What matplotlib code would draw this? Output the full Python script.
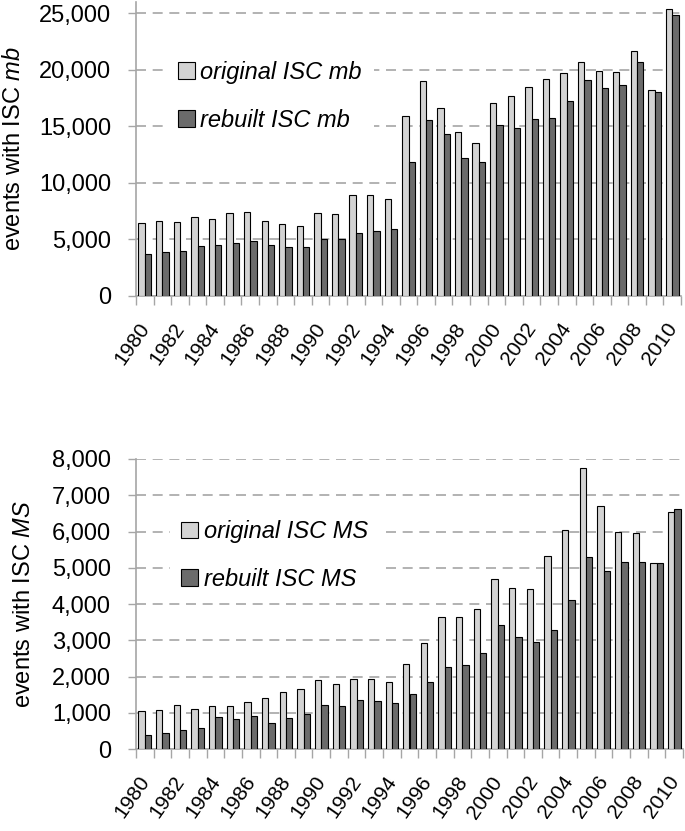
import numpy as np
import matplotlib
matplotlib.use('Agg')
import matplotlib.pyplot as plt
import matplotlib.transforms as mtransforms
from matplotlib.ticker import FuncFormatter, FixedLocator

plt.rcParams['font.family'] = ['Liberation Sans', 'DejaVu Sans']
plt.rcParams['mathtext.fontset'] = 'custom'
plt.rcParams['mathtext.rm'] = 'Liberation Sans'
plt.rcParams['mathtext.it'] = 'Liberation Sans:italic'

# 数据
years = list(range(1980, 2011))
mb_orig = [6490, 6640, 6520, 6970, 6790, 7350, 7440, 6610, 6350, 6230, 7320, 7230, 8910, 8910, 8560,
           15910, 19040, 16620, 14520, 13550, 17030, 17680, 18480, 19190, 19750, 20660, 19920, 19830,
           21700, 18210, 25350]
mb_rebuilt = [3750, 3870, 3950, 4460, 4550, 4660, 4840, 4490, 4310, 4310, 5050, 5050, 5610, 5730, 5900,
              11870, 15550, 14370, 12220, 11870, 15080, 14850, 15640, 15730, 17240, 19130, 18420, 18680,
              20660, 18030, 24850]
ms_orig = [1040, 1076, 1205, 1103, 1177, 1177, 1297, 1407, 1572, 1655, 1894, 1793, 1931, 1931, 1848,
           2345, 2933, 3651, 3651, 3853, 4690, 4441, 4414, 5333, 6051, 7752, 6703, 5977, 5949, 5140, 6538]
ms_rebuilt = [377, 441, 533, 588, 874, 818, 910, 708, 846, 966, 1214, 1186, 1352, 1324, 1269,
              1517, 1848, 2271, 2326, 2657, 3411, 3080, 2943, 3274, 4110, 5297, 4910, 5168, 5168, 5140, 6611]

FS = 17
GRAY = '#a6a6a6'


def panel(ax, orig, rebuilt, ymax, step, ylabel, labels, lab_x, leg_anchor):
    x = np.arange(len(years))
    w = 0.36
    ax.bar(x - w / 2, orig, w, color='#d3d3d3', edgecolor='black', linewidth=0.8, label=labels[0], zorder=3)
    ax.bar(x + w / 2, rebuilt, w, color='#6b6b6b', edgecolor='black', linewidth=0.8, label=labels[1], zorder=3)
    ax.set_xlim(-0.5, len(years) - 0.5)
    ax.set_ylim(0, ymax)
    ax.set_yticks(np.arange(0, ymax + 1, step))
    ax.yaxis.set_major_formatter(FuncFormatter(lambda v, p: '{:,.0f}'.format(v)))
    ax.yaxis.grid(True, linestyle=(0, (6, 4)), color=GRAY, linewidth=1.2, zorder=0)
    # x 轴: 刻度线在类别边界, 标签每隔两年
    ax.set_xticks(x[::2])
    ax.set_xticklabels([str(y) for y in years[::2]], rotation=55, ha='right', va='top',
                       rotation_mode='anchor')
    ax.xaxis.set_minor_locator(FixedLocator(np.arange(-0.5, len(years), 1)))
    ax.tick_params(axis='x', which='major', length=0, pad=17, labelsize=15)
    ax.tick_params(axis='x', which='minor', length=6.5, color=GRAY, width=1)
    ax.tick_params(axis='y', length=6, color=GRAY, width=1, pad=12, labelsize=FS)
    # 标签稍微左移 (tick_params 会重置 transform, 所以放在后面)
    shift = mtransforms.ScaledTranslation(-7 / 100, 0, ax.figure.dpi_scale_trans)
    for t in ax.get_xticklabels():
        t.set_transform(t.get_transform() + shift)
    for s in ['top', 'right']:
        ax.spines[s].set_visible(False)
    for s in ['left', 'bottom']:
        ax.spines[s].set_color(GRAY)
        ax.spines[s].set_linewidth(1.2)
    ax.set_ylabel(ylabel, fontsize=FS)
    ax.yaxis.set_label_coords(lab_x, 0.5)
    leg = ax.legend(loc='upper left', bbox_to_anchor=leg_anchor, frameon=True, fancybox=False,
                    prop={'size': FS, 'style': 'italic'}, handlelength=0.72, handleheight=0.72,
                    handletextpad=0.25, labelspacing=1.05, borderpad=0.5)
    leg.get_frame().set_facecolor('white')
    leg.get_frame().set_edgecolor('none')
    leg.get_frame().set_alpha(1)
    leg.set_zorder(5)


fig = plt.figure(figsize=(6.85, 8.31), dpi=100)
ax1 = fig.add_axes([136 / 685, 1 - 296 / 831, 545 / 685, 294 / 831])
ax2 = fig.add_axes([136 / 685, 1 - 749 / 831, 547 / 685, 290 / 831])

panel(ax1, mb_orig, mb_rebuilt, 26000, 5000, 'events with ISC $\\mathit{mb}$',
      ['original ISC mb', 'rebuilt ISC mb'], -0.204, (0.033, 0.88))
panel(ax2, ms_orig, ms_rebuilt, 8000, 1000, 'events with ISC $\\mathit{MS}$',
      ['original ISC MS', 'rebuilt ISC MS'], -0.185, (0.04, 0.87))

fig.savefig('out.png', dpi=100)
